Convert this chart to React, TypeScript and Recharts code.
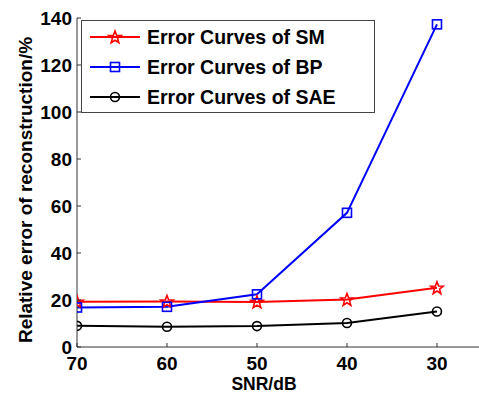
import { LineChart, Line, XAxis, YAxis } from "recharts";

const snr = [70, 60, 50, 40, 30];
const smErr = [19.3, 19.4, 19.2, 20.2, 25.2];
const bpErr = [16.8, 17.1, 22.4, 57.1, 137.3];
const saeErr = [9.0, 8.6, 8.9, 10.2, 15.1];
const yTicks = [0, 20, 40, 60, 80, 100, 120, 140];

const seriesNames = ["Error Curves of SM", "Error Curves of BP", "Error Curves of SAE"];
const seriesColors = ["#FF0000", "#0000FF", "#000000"];

const data = snr.map((s, i) => ({
  snr: s,
  sm: smErr[i],
  bp: bpErr[i],
  sae: saeErr[i],
}));

const FONT = "'Liberation Sans', Arial, sans-serif";

function starPath(cx: number, cy: number, r: number) {
  const pts: string[] = [];
  for (let i = 0; i < 10; i++) {
    const rad = i % 2 === 0 ? r : r * 0.42;
    const a = -Math.PI / 2 + (i * Math.PI) / 5;
    pts.push(`${(cx + rad * Math.cos(a)).toFixed(2)},${(cy + rad * Math.sin(a)).toFixed(2)}`);
  }
  return `M${pts.join("L")}Z`;
}

function Marker({ kind, cx, cy, color }: { kind: number; cx: number; cy: number; color: string }) {
  if (kind === 0)
    return <path d={starPath(cx, cy + 0.5, 6.5)} fill="none" stroke={color} strokeWidth={1.6} />;
  if (kind === 1)
    return <rect x={cx - 4.5} y={cy - 4.5} width={9} height={9} fill="none" stroke={color} strokeWidth={1.6} />;
  return <circle cx={cx} cy={cy} r={4.5} fill="none" stroke={color} strokeWidth={1.6} />;
}

const makeDot = (kind: number) => (props: any) => (
  <Marker key={`${kind}-${props.index}`} kind={kind} cx={props.cx} cy={props.cy} color={seriesColors[kind]} />
);

const XTick = (props: any) => {
  const { x, y, payload } = props;
  return (
    <g>
      <line x1={x} y1={y} x2={x} y2={y - 4} stroke="#333" />
      <text x={x} y={y + 23} textAnchor="middle" fontFamily={FONT} fontWeight="bold" fontSize={19} fill="#000">
        {payload.value}
      </text>
    </g>
  );
};

const YTick = (props: any) => {
  const { x, y, payload } = props;
  return (
    <g>
      <line x1={x} y1={y} x2={x + 4} y2={y} stroke="#333" />
      <text x={x - 5} y={y + 7} textAnchor="end" fontFamily={FONT} fontWeight="bold" fontSize={19} fill="#000">
        {payload.value}
      </text>
    </g>
  );
};

export default function App() {
  return (
    <div style={{ position: "absolute", left: 0, top: 0, width: 479, height: 394, background: "#fff" }}>
      <LineChart width={479} height={394} data={data} margin={{ top: 18, right: 0, bottom: 0, left: 0 }}>
        <XAxis
          dataKey="snr"
          type="number"
          domain={[25.33, 70]}
          reversed
          allowDataOverflow
          ticks={snr}
          tick={<XTick />}
          tickLine={false}
          tickSize={0}
          tickMargin={0}
          axisLine={{ stroke: "#333" }}
          height={47}
        />
        <YAxis
          type="number"
          domain={[0, 140]}
          ticks={yTicks}
          tick={<YTick />}
          tickLine={false}
          tickSize={0}
          tickMargin={0}
          axisLine={{ stroke: "#333" }}
          width={77}
          interval={0}
        />
        <Line dataKey="sm" stroke="#FF0000" strokeWidth={2} dot={makeDot(0)} isAnimationActive={false} />
        <Line dataKey="bp" stroke="#0000FF" strokeWidth={2} dot={makeDot(1)} isAnimationActive={false} />
        <Line dataKey="sae" stroke="#000000" strokeWidth={2} dot={makeDot(2)} isAnimationActive={false} />
      </LineChart>
      <svg width={479} height={394} style={{ position: "absolute", left: 0, top: 0, pointerEvents: "none" }}>
        <rect x={81.5} y={20.5} width={293} height={92} fill="#fff" stroke="#444" strokeWidth={1} />
        {seriesNames.map((name, i) => {
          const cy = 37 + i * 30;
          return (
            <g key={name}>
              <line x1={90} y1={cy} x2={140} y2={cy} stroke={seriesColors[i]} strokeWidth={2} />
              <Marker kind={i} cx={115} cy={cy} color={seriesColors[i]} />
              <text x={147} y={cy + 7} fontFamily={FONT} fontWeight="bold" fontSize={19.5} fill="#000">
                {name}
              </text>
            </g>
          );
        })}
        <text
          x={0}
          y={0}
          transform="translate(25,190) rotate(-90)"
          textAnchor="middle"
          dominantBaseline="central"
          fontFamily={FONT}
          fontWeight="bold"
          fontSize={19}
          fill="#000"
        >
          Relative error of reconstruction/%
        </text>
        <text x={264} y={390} textAnchor="middle" fontFamily={FONT} fontWeight="bold" fontSize={17.5} fill="#000">
          SNR/dB
        </text>
      </svg>
    </div>
  );
}
